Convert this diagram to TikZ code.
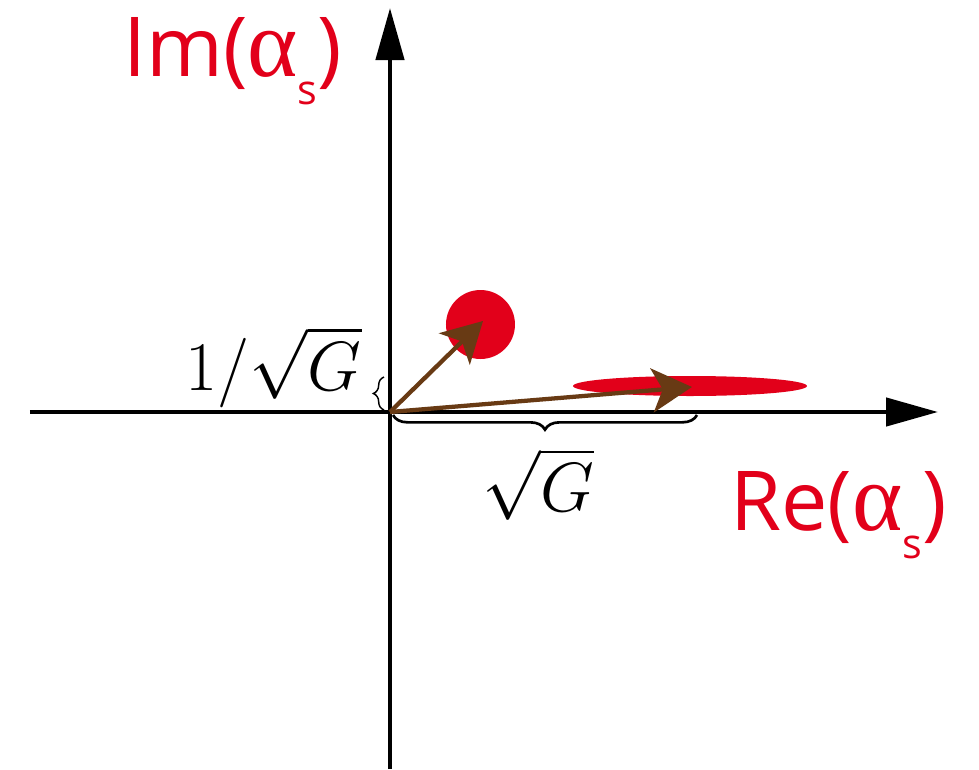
\documentclass[tikz,border=0pt]{standalone}
\usepackage{fontspec}
\newfontfamily\axisfont{Open Sans}
\newfontfamily\greekfont{Liberation Serif}
\usetikzlibrary{arrows.meta, decorations.pathreplacing}
\definecolor{sigred}{RGB}{226,0,26}
\definecolor{vecbrown}{RGB}{104,58,20}
\newcommand{\alphasub}{{\greekfont\fontsize{72}{72}\selectfont α}{\fontsize{31}{31}\selectfont\raisebox{-21pt}{s}}}
\newcommand{\bigmath}[1]{\scalebox{2.1}{\Huge$#1$}}
\tikzset{
  axisline/.style={line width=3.4pt, -{Triangle[length=39pt,width=21pt]}},
  vec/.style={draw=vecbrown, line width=3.2pt,
              -{Stealth[length=30pt,width=33pt,inset=8pt]}},
  blob/.style={fill=sigred},
  brace/.style={decorate, decoration={brace,amplitude=11pt}, line width=2pt},
  smallbrace/.style={decorate, decoration={brace,amplitude=8pt}, line width=1.1pt},
  redlabel/.style={text=sigred, font=\axisfont\fontsize{62}{70}\selectfont,
                   inner sep=0pt},
  mathlabel/.style={inner sep=0pt},
}
\begin{document}
\begin{tikzpicture}[x=0.75pt, y=0.75pt]
  \useasboundingbox (-390,-357) rectangle (589,412);
  % axes
  \coordinate (O) at (0,0);
  \coordinate (xstart) at (-360,0);
  \coordinate (xtip) at (548,0);
  \coordinate (ystart) at (0,-357);
  \coordinate (ytip) at (0,404);
  \draw[axisline] (xstart) -- (xtip);
  \draw[axisline] (ystart) -- (ytip);
  % states
  \fill[blob] (90.5,87.5) circle (34.5);
  \fill[blob] (300,26) ellipse [x radius=117, y radius=10];
  \coordinate (cohtip) at (93,91);
  \coordinate (sqtip) at (302,25);
  \draw[vec] (O) -- (cohtip);
  \draw[vec] (O) -- (sqtip);
  % braces
  \coordinate (bl) at (3,-3);
  \coordinate (br) at (307,-3);
  \draw[brace] (br) -- (bl);
  \coordinate (sb) at (-6,2);
  \coordinate (st) at (-6,35);
  \draw[smallbrace] (sb) -- (st);
  \node[mathlabel] (gain) at (148,-72) {\bigmath{\sqrt{G}}};
  \node[mathlabel, anchor=base east] (invgain) at (-28,22) {\bigmath{1/\sqrt{G}}};
  % labels
  \node[redlabel, anchor=base west] (imlab) at (-267,336) {Im(\alphasub)};
  \node[redlabel, anchor=base west] (relab) at (340,-118) {Re(\alphasub)};
\end{tikzpicture}
\end{document}
